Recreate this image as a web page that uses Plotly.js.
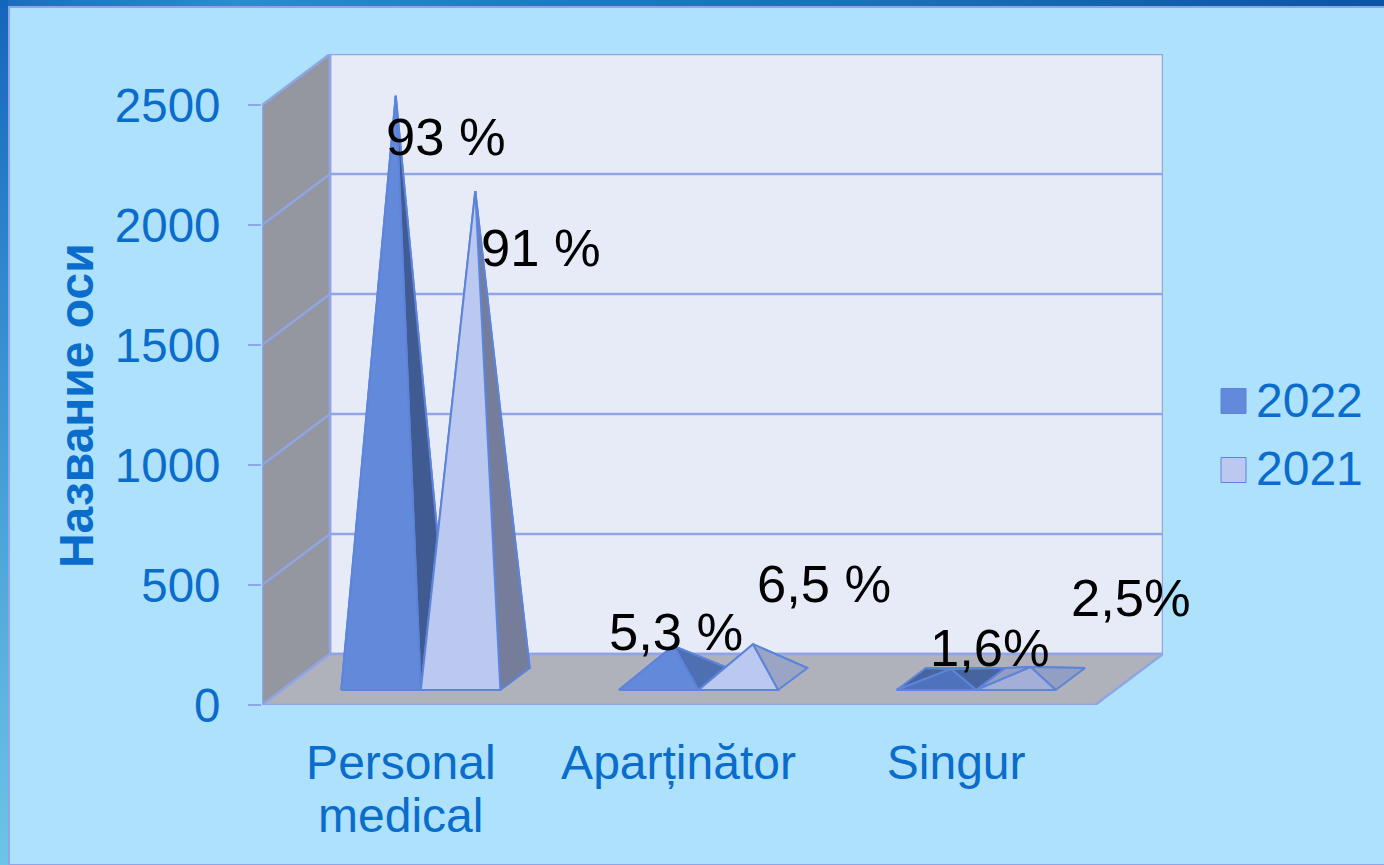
<!DOCTYPE html>
<html>
<head>
<meta charset="utf-8">
<script src="https://cdn.plot.ly/plotly-3.0.1.min.js"></script>
<style>
html,body{margin:0;padding:0;width:1384px;height:865px;overflow:hidden;background:#AEE1FB;}
#top{position:absolute;left:0;top:0;width:1384px;height:6px;background:linear-gradient(90deg,#1B6DBB 0%,#2E8BD0 17%,#1F79C2 40%,#1A6FB8 65%,#0B55A5 100%);}
#left{position:absolute;left:0;top:0;width:8px;height:865px;background:linear-gradient(180deg,#1565BC 0%,#2E86CE 30%,#4FA8DA 65%,#6EC4E8 100%);}
#inner{position:absolute;left:8px;top:6px;width:1376px;height:859px;box-sizing:border-box;border-left:2px solid #8FA5E5;border-top:2px solid #8FA5E5;border-bottom:1px solid #8FA5E5;background:#AEE1FB;}
#chart{position:absolute;left:0;top:0;width:1384px;height:865px;}
</style>
</head>
<body>
<div id="top"></div><div id="left"></div><div id="inner"></div>
<div id="chart"></div>
<script>
const categories = ["Personal", "Aparținător", "Singur"];
const categorySecondLine = ["medical", "", ""];
const seriesNames = ["2022", "2021"];
const values2022 = [2430, 138, 42];
const values2021 = [2033, 145, 50];
const labels2022 = ["93 %", "5,3 %", "1,6%"];
const labels2021 = ["91 %", "6,5 %", "2,5%"];
const yTicks = [0, 500, 1000, 1500, 2000, 2500];
const yTitle = "Название оси";

// styles and geometry
const FONT = "Liberation Sans, Arial, sans-serif";
const BLUE = "#0A6CCB";
const EDGE = "#5C84DA";
const GRID = "#8FA5E5";
const front = [["#6389DB", "#6389DB", "#4F72BC"], ["#BBC8F0", "#BBC8F0", "#A3AFD6"]];
const side = [["#405A92", "#4F6FB3", "#46659F"], ["#767D9A", "#9AA5C6", "#939FC2"]];
const swatch = ["#6389DB", "#BBC8F0"];
const labelShift = [[[50, -41], [3, 14], [39, 21]], [[66, -56], [71, 61], [100, 69]]];
const DX = 0.2449, DY = 212.5;         // depth vector, in axis units
const BAR = 0.2865;                     // bar width, in category units
const D0 = 0.294, D1 = 0.725, DM = 0.51; // base depth band
const XMIN = -0.5, XMAX = 2.5, VTOP = 2500;

const P = (x, d, v) => [x + d * DX, v + d * DY];
function poly(pts, fill, line, lw) {
  return {
    type: "scatter", mode: "lines", x: pts.map(p => p[0]), y: pts.map(p => p[1]),
    fill: fill ? "toself" : "none", fillcolor: fill || undefined,
    line: { color: line, width: lw === undefined ? 2 : lw, simplify: false },
    hoverinfo: "skip", showlegend: false, cliponaxis: false
  };
}
const traces = [];
// walls
traces.push(poly([P(XMIN, 1, 0), P(XMAX, 1, 0), P(XMAX, 1, VTOP), P(XMIN, 1, VTOP), P(XMIN, 1, 0)], "#E7EBF8", GRID, 2.5));
traces.push(poly([P(XMIN, 0, 0), P(XMIN, 1, 0), P(XMIN, 1, VTOP), P(XMIN, 0, VTOP), P(XMIN, 0, 0)], "#94979F", GRID, 2.5));
traces.push(poly([P(XMIN, 0, 0), P(XMAX, 0, 0), P(XMAX, 1, 0), P(XMIN, 1, 0), P(XMIN, 0, 0)], "#AFB2BB", GRID, 2.5));
// gridlines
yTicks.slice(1, -1).forEach(v => traces.push(poly([P(XMIN, 0, v), P(XMIN, 1, v), P(XMAX, 1, v)], null, GRID, 2.5)));
// pyramids
[values2022, values2021].forEach((vals, s) => {
  vals.forEach((v, c) => {
    const x0 = c + (s === 0 ? -BAR : 0), x1 = x0 + BAR, xm = x0 + BAR / 2;
    const fl = P(x0, D0, 0), fr = P(x1, D0, 0), bl = P(x0, D1, 0), br = P(x1, D1, 0), apex = P(xm, DM, v);
    traces.push(poly([bl, br, apex, bl], side[s][c], EDGE));
    traces.push(poly([fl, bl, apex, fl], side[s][c], EDGE));
    traces.push(poly([fr, br, apex, fr], side[s][c], EDGE));
    traces.push(poly([fl, fr, apex, fl], front[s][c], EDGE));
  });
});

const annotations = [];
[[values2022, labels2022], [values2021, labels2021]].forEach(([vals, labs], s) => {
  vals.forEach((v, c) => {
    const xm = c + (s === 0 ? -BAR : 0) + BAR / 2, a = P(xm, DM, v);
    annotations.push({
      x: a[0], y: a[1], xref: "x", yref: "y", text: labs[c], showarrow: false,
      xshift: labelShift[s][c][0], yshift: labelShift[s][c][1],
      font: { family: FONT, size: 52.5, color: "#000" }
    });
  });
});
categorySecondLine.forEach((t, c) => {
  if (t) annotations.push({
    x: c, y: 0, xref: "x", yref: "y", text: t, showarrow: false, yanchor: "middle",
    yshift: -110, font: { family: FONT, size: 48, color: BLUE }
  });
});
// axis title
annotations.push({
  x: 0, y: 0.46, xref: "paper", yref: "paper", xshift: -214, text: "<b>" + yTitle + "</b>", textangle: -90,
  showarrow: false, font: { family: FONT, size: 48, color: BLUE }
});
// legend
const W = 1384, H = 865;
const legendRows = [401, 470];
const legendTextRows = [400, 468];
const shapes = [];
seriesNames.forEach((n, i) => {
  const cy = legendRows[i];
  shapes.push({
    type: "rect", xref: "paper", yref: "paper", layer: "above",
    x0: (1221 - 262) / 901, x1: (1246 - 262) / 901,
    y0: (705 - (cy + 12.5)) / 651, y1: (705 - (cy - 12.5)) / 651,
    fillcolor: swatch[i], line: { color: EDGE, width: 1 }
  });
  annotations.push({
    x: (1254 - 262) / 901, y: (705 - legendTextRows[i]) / 651, xref: "paper", yref: "paper", xanchor: "left",
    text: n, showarrow: false, font: { family: FONT, size: 48, color: BLUE }
  });
});

const layout = {
  width: W, height: H,
  margin: { l: 262, r: 221, t: 54, b: 160, pad: 0 },
  paper_bgcolor: "rgba(0,0,0,0)", plot_bgcolor: "rgba(0,0,0,0)",
  showlegend: false, hovermode: false,
  xaxis: {
    range: [XMIN, XMAX + DX], tickmode: "array", tickvals: [0, 1, 2], ticktext: categories,
    showgrid: false, zeroline: false, showline: false, ticks: "",
    ticklabelstandoff: 25, tickfont: { family: FONT, size: 48, color: BLUE }
  },
  yaxis: {
    range: [0, 2712.5], tickmode: "array", tickvals: yTicks, ticktext: yTicks.map(String),
    showgrid: false, zeroline: false, showline: false,
    ticks: "outside", ticklen: 13, tickwidth: 1.5, tickcolor: GRID,
    ticklabelstandoff: 18, tickfont: { family: FONT, size: 47.5, color: BLUE }
  },
  annotations, shapes
};
Plotly.newPlot("chart", traces, layout, { displayModeBar: false, staticPlot: true });
</script>
</body>
</html>
